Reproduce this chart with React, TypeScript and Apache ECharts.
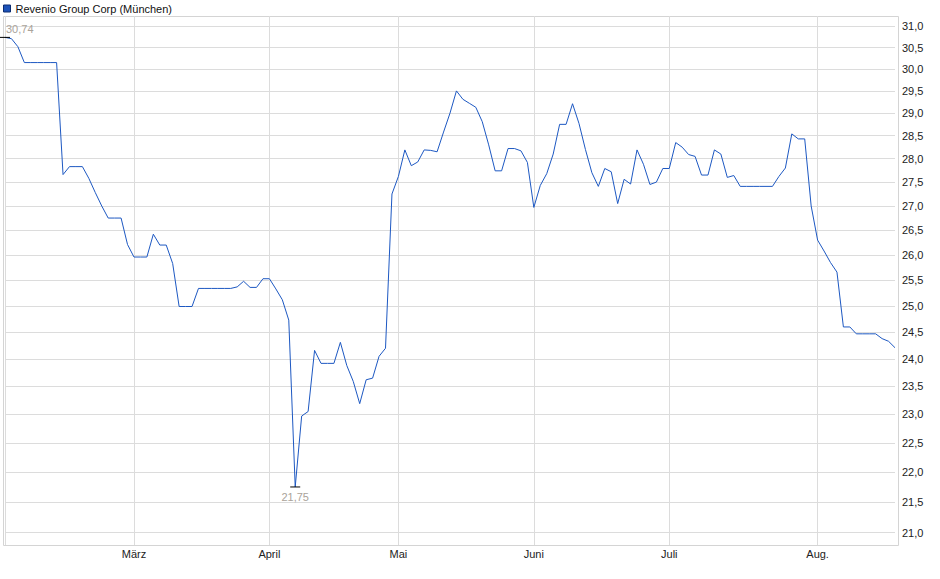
import React, { useEffect, useRef } from 'react';
import * as echarts from 'echarts';

const seriesName = 'Revenio Group Corp (München)';

// month labels, one list of daily closing prices per month (trading days)
const monthLabels = ['Feb', 'März', 'April', 'Mai', 'Juni', 'Juli', 'Aug.'];
const febValues = [30.74, 30.71, 30.52, 30.15, 30.15, 30.15, 30.15, 30.15, 30.15, 27.66,
  27.83, 27.83, 27.83, 27.58, 27.28, 27.0, 26.75, 26.75, 26.75, 26.21];
const marValues = [25.96, 25.96, 25.96, 26.42, 26.2, 26.2, 25.83, 24.99, 24.99, 24.99,
  25.34, 25.34, 25.34, 25.34, 25.34, 25.34, 25.37, 25.48, 25.36, 25.36, 25.53];
const aprValues = [25.53, 25.33, 25.12, 24.73, 21.75, 22.97, 23.05, 24.16, 23.92, 23.92,
  23.92, 24.31, 23.88, 23.59, 23.19, 23.62, 23.65, 24.05, 24.2, 27.25];
const mayValues = [27.62, 28.19, 27.85, 27.93, 28.19, 28.18, 28.15, 28.58, 29.0, 29.5,
  29.31, 29.22, 29.13, 28.81, 28.3, 27.74, 27.74, 28.22, 28.22, 28.17, 27.92];
const junValues = [26.97, 27.43, 27.68, 28.1, 28.75, 28.75, 29.21, 28.77, 28.2, 27.7,
  27.41, 27.79, 27.72, 27.05, 27.56, 27.46, 28.19, 27.88, 27.45, 27.5, 27.79];
const julValues = [27.79, 28.35, 28.25, 28.09, 28.05, 27.65, 27.65, 28.19, 28.1, 27.6,
  27.64, 27.41, 27.41, 27.41, 27.41, 27.41, 27.41, 27.62, 27.8, 28.54, 28.43, 28.43, 27.0];
const augValues = [26.3, 26.08, 25.85, 25.66, 24.6, 24.6, 24.47, 24.47, 24.47, 24.47,
  24.38, 24.33, 24.21];
const monthValues = [febValues, marValues, aprValues, mayValues, junValues, julValues, augValues];

const yTicks = [21.0, 21.5, 22.0, 22.5, 23.0, 23.5, 24.0, 24.5, 25.0, 25.5, 26.0,
  26.5, 27.0, 27.5, 28.0, 28.5, 29.0, 29.5, 30.0, 30.5, 31.0];

const categories: string[] = [];
const prices: number[] = [];
monthValues.forEach((vals, m) => {
  vals.forEach((v, j) => {
    categories.push(`${monthLabels[m]}|${j}`);
    prices.push(v);
  });
});

const fmt = (v: number, d: number) => v.toFixed(d).replace('.', ',');
const isMonthStart = (_i: number, v: string) => v.endsWith('|0');

const lineColor = '#1d58c2';
const gridColor = '#dcdcdc';
const font = 'Arial, "Liberation Sans", sans-serif';

const App: React.FC = () => {
  const chartRef = useRef<HTMLDivElement>(null);

  useEffect(() => {
    document.body.style.margin = '0';
    if (!chartRef.current) return;
    const chart = echarts.init(chartRef.current, undefined, { renderer: 'svg' });

    const option: any = {
      animation: false,
      textStyle: { fontFamily: font },
      legend: {
        left: 0,
        top: 0,
        padding: 3,
        icon: 'rect',
        itemWidth: 7,
        itemHeight: 7,
        textStyle: { fontSize: 11, color: '#111', fontFamily: font, padding: [1, 0, 0, 0] },
        data: [{ name: seriesName, itemStyle: { color: '#1c52b8', borderColor: '#0c2c70', borderWidth: 1 } }],
      },
      grid: { left: 5, right: 45, top: 16, bottom: 34 },
      xAxis: {
        type: 'category',
        data: categories,
        boundaryGap: false,
        axisLine: { show: false },
        axisTick: { show: false },
        axisLabel: {
          interval: (i: number, v: string) => isMonthStart(i, v) && !v.startsWith(monthLabels[0] + '|'),
          formatter: (v: string) => v.split('|')[0],
          fontSize: 11,
          color: '#222',
          margin: 3,
          fontFamily: font,
        },
        splitLine: { show: true, interval: isMonthStart, lineStyle: { color: gridColor, width: 1 } },
      },
      yAxis: {
        type: 'log',
        logBase: 10,
        min: 20.8,
        max: 31.25,
        position: 'right',
        axisLine: { show: false },
        axisTick: { show: false, customValues: yTicks },
        axisLabel: {
          customValues: yTicks,
          formatter: (v: number) => fmt(v, 1),
          fontSize: 11,
          color: '#222',
          margin: 7,
          fontFamily: font,
        },
        splitLine: { show: true, lineStyle: { color: gridColor, width: 1 } },
      },
      series: [
        {
          name: seriesName,
          type: 'line',
          data: prices,
          symbol: 'none',
          lineStyle: { color: lineColor, width: 1 },
          itemStyle: { color: lineColor },
          markPoint: {
            symbol: 'rect',
            symbolSize: [10, 1],
            itemStyle: { color: '#000' },
            label: {
              show: true,
              fontSize: 11,
              color: '#aaa39a',
              fontFamily: font,
              formatter: (p: any) => fmt(p.value, 2),
            },
            data: [
              { type: 'max', label: { position: [6, -13] } },
              { type: 'min', label: { position: 'bottom', distance: 4 } },
            ],
          },
        },
      ],
      graphic: [
        {
          type: 'rect',
          shape: { x: 3.5, y: 16.5, width: 895, height: 529 },
          style: { fill: 'none', stroke: '#d4d4d4', lineWidth: 1 },
          silent: true,
        },
      ],
    };

    chart.setOption(option);
    return () => {
      chart.dispose();
    };
  }, []);

  return <div ref={chartRef} style={{ width: '940px', height: '579px' }}></div>;
};

export default App;
